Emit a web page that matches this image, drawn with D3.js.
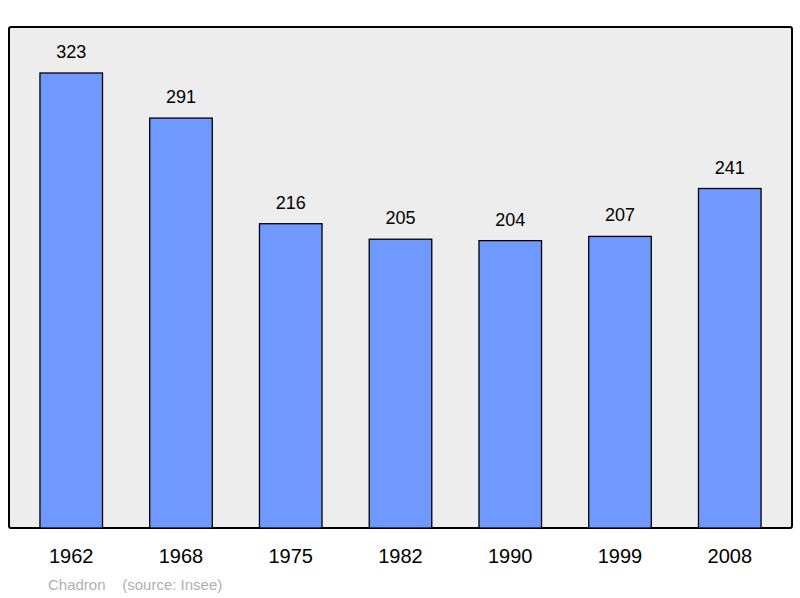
<!DOCTYPE html>
<html><head><meta charset="utf-8">
<script src="https://cdn.jsdelivr.net/npm/d3@7"></script>
<style>body{margin:0;background:#fff}</style>
</head><body>
<svg id="chart" width="800" height="598"></svg>
<script>
const years = ['1962', '1968', '1975', '1982', '1990', '1999', '2008'];
const population = [323, 291, 216, 205, 204, 207, 241];
const place = 'Chadron';
const source = '(source: Insee)';

const svg = d3.select('#chart');
const frame = {left: 9, top: 27, right: 792, bottom: 528};

svg.append('rect')
  .attr('x', frame.left).attr('y', frame.top)
  .attr('width', frame.right - frame.left).attr('height', frame.bottom - frame.top)
  .attr('rx', 2)
  .attr('fill', '#ededed').attr('stroke', '#000').attr('stroke-width', 2);

const x = d3.scaleBand().domain(years).range([18, 783]).paddingInner(0.43).paddingOuter(0.2);
// 323 -> top at y=73
const y = d3.scaleLinear().domain([0, 323]).range([frame.bottom, 73]);

svg.selectAll('rect.bar').data(population).enter().append('rect')
  .attr('class', 'bar')
  .attr('x', (d, i) => x(years[i]))
  .attr('y', d => y(d))
  .attr('width', x.bandwidth())
  .attr('height', d => frame.bottom - y(d))
  .attr('fill', '#7099ff').attr('stroke', '#000').attr('stroke-width', 1.3);

svg.selectAll('text.val').data(population).enter().append('text')
  .attr('class', 'val')
  .attr('x', (d, i) => x(years[i]) + x.bandwidth() / 2)
  .attr('y', d => y(d) - 15)
  .attr('text-anchor', 'middle')
  .attr('font-family', 'Liberation Sans, Arial, sans-serif')
  .attr('font-size', 18)
  .text(d => d);

svg.selectAll('text.year').data(years).enter().append('text')
  .attr('class', 'year')
  .attr('x', d => x(d) + x.bandwidth() / 2)
  .attr('y', 563)
  .attr('text-anchor', 'middle')
  .attr('font-family', 'Liberation Sans, Arial, sans-serif')
  .attr('font-size', 20)
  .text(d => d);

svg.append('text')
  .attr('x', 48).attr('y', 590)
  .attr('font-family', 'Liberation Sans, Arial, sans-serif')
  .attr('font-size', 15).attr('fill', '#b0b0b0')
  .attr('xml:space', 'preserve')
  .text(place + '    ' + source);
</script>
</body></html>
